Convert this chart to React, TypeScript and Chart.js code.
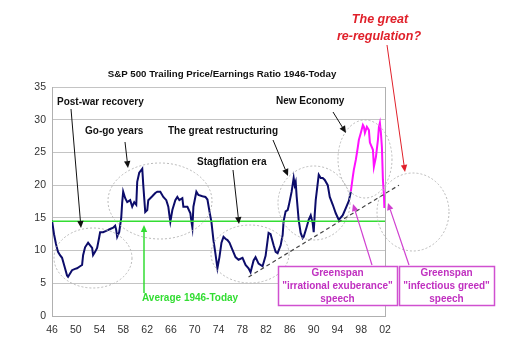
import { useEffect, useRef } from "react";
import { Chart, registerables } from "chart.js";

Chart.register(...registerables);

// ---------- DATA ----------
const X_TICKS = [1946, 1950, 1954, 1958, 1962, 1966, 1970, 1974, 1978, 1982, 1986, 1990, 1994, 1998, 2002];

const PE_YEARS = [
  1946.0, 1946.34, 1946.67, 1947.01, 1947.35, 1947.69, 1948.19, 1948.53, 1948.7, 1949.04,
  1949.37, 1949.88, 1950.22, 1950.72, 1951.06, 1951.23, 1951.56, 1952.07, 1952.41, 1952.75,
  1952.91, 1953.25, 1953.59, 1953.93, 1954.09, 1954.6, 1955.11, 1955.78, 1956.29, 1956.62,
  1956.79, 1956.96, 1957.3, 1957.64, 1957.8, 1957.97, 1958.31, 1958.65, 1959.15, 1959.49,
  1959.83, 1960.17, 1960.33, 1960.67, 1961.01, 1961.18, 1961.35, 1961.68, 1962.02, 1962.19,
  1962.53, 1962.86, 1963.37, 1963.71, 1964.21, 1964.72, 1965.22, 1965.56, 1965.73, 1965.9,
  1966.24, 1966.74, 1967.08, 1967.42, 1967.92, 1968.09, 1968.77, 1969.27, 1969.44, 1969.61,
  1969.78, 1970.28, 1970.62, 1971.3, 1971.8, 1972.14, 1972.48, 1972.81, 1973.15, 1973.49,
  1973.82, 1974.16, 1974.5, 1974.84, 1975.17, 1975.51, 1975.85, 1976.35, 1976.86, 1977.37,
  1978.04, 1978.55, 1979.05, 1979.39, 1979.9, 1980.23, 1980.74, 1981.41, 1981.92, 1982.42,
  1982.76, 1983.27, 1983.61, 1983.94, 1984.45, 1984.79, 1984.95, 1985.29, 1985.63, 1985.8,
  1986.3, 1986.64, 1986.81, 1986.98, 1987.15, 1987.48, 1987.82, 1988.16, 1988.33, 1988.83,
  1989.17, 1989.51, 1989.84, 1990.01, 1990.18, 1990.35, 1990.69, 1990.86, 1991.19, 1991.53,
  1991.87, 1992.37, 1992.71, 1993.22, 1993.72, 1994.23, 1994.9, 1995.41, 1995.92, 1996.25,
];
const PE_VALUES = [
  14.6, 12.5, 11.0, 9.8, 9.3, 8.9, 7.3, 6.2, 6.0, 6.5,
  7.0, 7.2, 7.3, 7.6, 7.8, 9.3, 10.5, 11.2, 10.8, 10.4,
  9.3, 9.8, 10.4, 12.0, 12.8, 12.8, 13.0, 13.3, 13.5, 13.8,
  13.2, 12.1, 12.8, 15.0, 17.3, 19.0, 18.0, 17.4, 17.7, 16.7,
  17.4, 17.0, 20.5, 21.9, 22.3, 22.5, 20.0, 15.9, 16.2, 17.7,
  18.0, 18.3, 18.8, 19.0, 19.0, 18.2, 17.7, 16.7, 15.5, 14.4,
  16.2, 17.7, 18.2, 17.7, 18.0, 16.7, 16.7, 15.7, 14.5, 13.5,
  16.7, 19.0, 18.5, 18.3, 18.2, 17.8, 16.0, 14.4, 11.6, 9.5,
  7.3, 9.0, 11.2, 12.1, 11.8, 11.6, 11.2, 10.1, 9.0, 8.6,
  8.9, 7.8, 7.3, 6.7, 8.5, 9.0, 8.0, 7.6, 9.2, 12.7,
  12.5, 10.8, 9.8, 9.6, 10.8, 12.4, 14.5, 16.0, 16.2, 16.8,
  19.0, 21.1, 20.0, 20.5, 18.2, 14.7, 12.7, 11.9, 12.1, 13.6,
  14.7, 15.4, 14.2, 12.8, 15.5, 17.7, 20.3, 21.6, 21.1, 21.1,
  20.8, 20.0, 18.2, 17.0, 15.7, 14.7, 15.4, 16.5, 17.6, 19.0,
];

const BUBBLE_YEARS = [
  1996.25, 1996.59, 1996.75, 1997.1, 1997.43, 1997.6, 1997.94, 1998.28, 1998.45, 1998.62,
  1998.95, 1999.29, 1999.46, 1999.97, 2000.13, 2000.47, 2000.81, 2000.98, 2001.14, 2001.31,
  2001.48, 2001.65, 2001.82, 2001.9,
];
const BUBBLE_VALUES = [
  19.0, 21.3, 22.3, 23.9, 25.8, 26.9, 28.0, 29.2, 28.9, 28.0,
  28.9, 28.4, 26.5, 25.4, 22.8, 24.3, 26.9, 28.9, 29.5, 28.0,
  25.8, 20.8, 18.5, 16.5,
];

const AVERAGE_PE = 14.5;
const TREND_START = { year: 1979.05, pe: 5.96 };
const TREND_END = { year: 2004.35, pe: 20.0 };

const TITLE = "S&P 500 Trailing Price/Earnings Ratio 1946-Today";

// ---------- ANNOTATION LAYOUT (pixels) ----------
const FONT = "'Liberation Sans', Arial, sans-serif";
const ELLIPSES = [
  [93, 258, 39, 30],
  [160, 201, 52, 38],
  [250, 254, 39, 29],
  [314, 203, 36, 37],
  [365, 159, 27, 39],
  [413, 212, 36, 39],
];
const ARROWS = [
  { a: [71, 109], b: [81, 228], c: "#111", w: 1 },
  { a: [125, 142], b: [128, 168], c: "#111", w: 1 },
  { a: [273, 140], b: [288, 176], c: "#111", w: 1 },
  { a: [233, 170], b: [239, 224], c: "#111", w: 1 },
  { a: [333, 112], b: [346, 133], c: "#111", w: 1 },
  { a: [387, 45], b: [405, 172], c: "#e0202a", w: 1 },
  { a: [144, 293], b: [144, 225], c: "#33dd33", w: 1.5 },
  { a: [372, 265], b: [353, 204], c: "#d040d0", w: 1.2 },
  { a: [409, 265], b: [388, 203], c: "#d040d0", w: 1.2 },
];
const LABELS = [
  { t: "Post-war recovery", x: 57, y: 102 },
  { t: "Go-go years", x: 85, y: 131 },
  { t: "The great restructuring", x: 168, y: 131 },
  { t: "Stagflation era", x: 197, y: 162 },
  { t: "New Economy", x: 276, y: 101 },
];
const BOXES = [
  { x: 278, y: 266, w: 119, h: 39, lines: ["Greenspan", "\"irrational exuberance\"", "speech"] },
  { x: 399, y: 266, w: 95, h: 39, lines: ["Greenspan", "\"infectious greed\"", "speech"] },
];

function drawArrow(ctx: CanvasRenderingContext2D, a: number[], b: number[], color: string, w: number) {
  const [x1, y1] = a;
  const [x2, y2] = b;
  const ang = Math.atan2(y2 - y1, x2 - x1);
  const hl = 7;
  const hw = 3.2;
  const bx = x2 - Math.cos(ang) * hl;
  const by = y2 - Math.sin(ang) * hl;
  ctx.save();
  ctx.strokeStyle = color;
  ctx.fillStyle = color;
  ctx.lineWidth = w;
  ctx.setLineDash([]);
  ctx.beginPath();
  ctx.moveTo(x1, y1);
  ctx.lineTo(bx, by);
  ctx.stroke();
  ctx.beginPath();
  ctx.moveTo(x2, y2);
  ctx.lineTo(bx + Math.sin(ang) * hw, by - Math.cos(ang) * hw);
  ctx.lineTo(bx - Math.sin(ang) * hw, by + Math.cos(ang) * hw);
  ctx.closePath();
  ctx.fill();
  ctx.restore();
}

const annotationPlugin = {
  id: "peAnnotations",
  afterDatasetsDraw(chart: any) {
    const ctx: CanvasRenderingContext2D = chart.ctx;
    const xs = chart.scales.x;
    const ys = chart.scales.y;
    // trend line (unclipped)
    ctx.save();
    ctx.strokeStyle = "#444";
    ctx.lineWidth = 1.2;
    ctx.setLineDash([4, 3]);
    ctx.beginPath();
    ctx.moveTo(xs.getPixelForValue(TREND_START.year), ys.getPixelForValue(TREND_START.pe));
    ctx.lineTo(xs.getPixelForValue(TREND_END.year), ys.getPixelForValue(TREND_END.pe));
    ctx.stroke();
    ctx.restore();
  },
  afterDraw(chart: any) {
    const ctx: CanvasRenderingContext2D = chart.ctx;
    const area = chart.chartArea;
    ctx.save();
    // right border of plot
    ctx.strokeStyle = "#b0b0b0";
    ctx.lineWidth = 1;
    ctx.beginPath();
    ctx.moveTo(Math.round(area.right) + 0.5, area.top);
    ctx.lineTo(Math.round(area.right) + 0.5, area.bottom);
    ctx.stroke();

    // ellipses
    ctx.strokeStyle = "#b8b8b8";
    ctx.lineWidth = 1;
    ctx.setLineDash([2, 2]);
    for (const [cx, cy, rx, ry] of ELLIPSES) {
      ctx.beginPath();
      ctx.ellipse(cx, cy, rx, ry, 0, 0, Math.PI * 2);
      ctx.stroke();
    }
    ctx.setLineDash([]);

    // arrows
    for (const ar of ARROWS) drawArrow(ctx, ar.a, ar.b, ar.c, ar.w);

    // title
    ctx.fillStyle = "#111";
    ctx.textBaseline = "middle";
    ctx.textAlign = "center";
    ctx.font = `bold 9.7px ${FONT}`;
    ctx.fillText(TITLE, 222, 74);

    // labels
    ctx.textAlign = "left";
    ctx.font = `bold 10px ${FONT}`;
    for (const l of LABELS) ctx.fillText(l.t, l.x, l.y);

    // average label
    ctx.fillStyle = "#33dd33";
    ctx.fillText("Average 1946-Today", 142, 298);

    // red question
    ctx.fillStyle = "#e0202a";
    ctx.textAlign = "center";
    ctx.font = `italic bold 12.5px ${FONT}`;
    ctx.fillText("The great", 380, 20);
    ctx.fillText("re-regulation?", 379, 37);

    // boxes
    for (const b of BOXES) {
      ctx.fillStyle = "#ffffff";
      ctx.fillRect(b.x, b.y, b.w, b.h);
      ctx.strokeStyle = "#d050d0";
      ctx.lineWidth = 1.5;
      ctx.strokeRect(b.x + 0.5, b.y + 0.5, b.w, b.h);
      ctx.fillStyle = "#c030c0";
      ctx.font = `bold 10px ${FONT}`;
      ctx.textAlign = "center";
      b.lines.forEach((t, i) => ctx.fillText(t, b.x + b.w / 2, b.y + 7 + i * 13));
    }
    ctx.restore();
  },
};

export default function App() {
  const ref = useRef<HTMLCanvasElement>(null);
  useEffect(() => {
    if (!ref.current) return;
    const chart = new Chart(ref.current, {
      type: "line",
      data: {
        datasets: [
          {
            label: "Average",
            data: [
              { x: X_TICKS[0], y: AVERAGE_PE },
              { x: X_TICKS[X_TICKS.length - 1], y: AVERAGE_PE },
            ],
            borderColor: "#33dd33",
            borderWidth: 1.5,
            pointRadius: 0,
          },
          {
            label: "P/E",
            data: PE_YEARS.map((x, i) => ({ x, y: PE_VALUES[i] })),
            borderColor: "#0c0c6a",
            borderWidth: 2,
            pointRadius: 0,
            tension: 0,
          },
          {
            label: "Bubble",
            data: BUBBLE_YEARS.map((x, i) => ({ x, y: BUBBLE_VALUES[i] })),
            borderColor: "#ff10ff",
            borderWidth: 2,
            pointRadius: 0,
            tension: 0,
          },
        ],
      },
      options: {
        animation: false,
        responsive: false,
        layout: { padding: { top: 87, right: 124, left: 0, bottom: 0 } },
        plugins: { legend: { display: false }, tooltip: { enabled: false }, title: { display: false } },
        scales: {
          x: {
            type: "linear",
            min: X_TICKS[0],
            max: X_TICKS[X_TICKS.length - 1],
            afterBuildTicks: (s: any) => {
              s.ticks = X_TICKS.map((v) => ({ value: v }));
            },
            afterFit: (s: any) => {
              s.height = 37;
            },
            ticks: {
              callback: (v: any) => String(v).slice(2),
              font: { family: FONT, size: 10.5 },
              color: "#333",
              padding: 8,
              maxRotation: 0,
              autoSkip: false,
            },
            grid: { display: false, drawTicks: false },
            border: { display: true, color: "#b0b0b0" },
          },
          y: {
            min: 0,
            max: 35,
            afterFit: (s: any) => {
              s.width = 52;
            },
            ticks: {
              stepSize: 5,
              font: { family: FONT, size: 10.5 },
              color: "#333",
              padding: 6,
            },
            grid: { color: "#c4c4c4", drawTicks: false },
            border: { display: true, color: "#b0b0b0" },
          },
        },
      },
      plugins: [annotationPlugin],
    } as any);
    return () => chart.destroy();
  }, []);
  return (
    <div style={{ position: "absolute", left: 0, top: 0, width: 509, height: 353, background: "#fff" }}>
      <canvas ref={ref} width={509} height={353} style={{ display: "block", width: 509, height: 353 }} />
    </div>
  );
}
